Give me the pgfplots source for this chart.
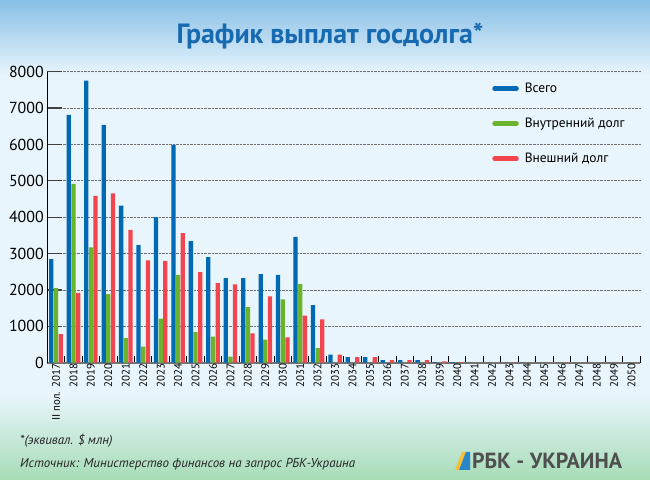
\documentclass[border=0pt]{standalone}
\usepackage{pgfplots}
\pgfplotsset{compat=1.18}
\usepackage{fontspec}
\setmainfont{PT Sans}
\definecolor{cBlue}{HTML}{0069B4}
\definecolor{cGreen}{HTML}{6AB42D}
\definecolor{cRed}{HTML}{F2464F}
\definecolor{bgTop}{HTML}{88BFE6}
\definecolor{bgMid}{HTML}{E8F5FC}
\definecolor{bgBot}{HTML}{A6DCB6}
\definecolor{titleBlue}{HTML}{1769B0}
\definecolor{gridGray}{HTML}{707070}
\definecolor{logoGray}{HTML}{4F4F4F}
\definecolor{logoYellow}{HTML}{F5C033}
\definecolor{logoBlue}{HTML}{2A86C8}
\begin{document}
\begin{tikzpicture}[x=1bp,y=1bp]
\fill[bgMid] (0,0) rectangle (650,480);
\shade[top color=bgTop, bottom color=bgMid] (0,405) rectangle (650,480);
\shade[top color=bgMid, bottom color=bgBot] (0,0) rectangle (650,85);
\begin{axis}[
  at={(47.3bp,117.3bp)}, anchor=south west,
  scale only axis, width=593bp, height=291bp,
  xmin=-0.5, xmax=33.5, ymin=0, ymax=8000,
  enlargelimits=false,
  ybar=0.4bp, bar width=0.245,
  xtick={0,...,33},
  xticklabels={II пол. 2017,2018,2019,2020,2021,2022,2023,2024,2025,2026,2027,2028,2029,2030,2031,2032,2033,2034,2035,2036,2037,2038,2039,2040,2041,2042,2043,2044,2045,2046,2047,2048,2049,2050},
  major x tick style={draw=none},
  minor xtick={-0.5,0.5,...,33.5},
  minor x tick style={black, line width=1bp},
  minor tick length=7bp,
  major tick length=15bp,
  tick align=inside,
  x tick label style={rotate=90, anchor=east, font=\fontsize{11}{11}\selectfont, inner sep=1bp, yshift=0bp},
  ytick={0,1000,...,8000},
  y tick style={black!75, line width=1.2bp},
  y tick label style={font=\fontsize{16}{16}\selectfont, /pgf/number format/assume math mode=true, /pgf/number format/1000 sep={}},
  ymajorgrids, grid style={densely dotted, gridGray, line width=0.8bp},
  axis x line*=bottom, axis y line*=left,
  x axis line style={black!55, line width=2bp},
  y axis line style={black, line width=1.5bp},
  legend style={at={(0.745,0.975)}, anchor=north west, draw=none, fill=none,
    font=\fontsize{13.5}{14}\selectfont, row sep=20bp, legend cell align=left,
    /tikz/every odd column/.append style={column sep=4bp}},
]
\addplot[fill=cBlue, draw=none, legend image code/.code={\draw[cBlue, line width=4.5bp, line cap=round] (0bp,0bp) -- (22bp,0bp);}] coordinates {(0,2850)(1,6810)(2,7754)(3,6535)(4,4317)(5,3235)(6,4005)(7,5985)(8,3345)(9,2905)(10,2328)(11,2328)(12,2438)(13,2411)(14,3456)(15,1586)(16,220)(17,156)(18,156)(19,73)(20,73)(21,73)(22,18)(23,18)(24,0)(25,0)(26,0)(27,0)(28,0)(29,0)(30,0)(31,0)(32,0)(33,0)};
\addplot[fill=cGreen, draw=none, legend image code/.code={\draw[cGreen, line width=4.5bp, line cap=round] (0bp,0bp) -- (22bp,0bp);}] coordinates {(0,2053)(1,4913)(2,3171)(3,1888)(4,678)(5,440)(6,1210)(7,2411)(8,843)(9,715)(10,165)(11,1531)(12,632)(13,1742)(14,2163)(15,403)(16,0)(17,0)(18,0)(19,0)(20,0)(21,0)(22,0)(23,0)(24,0)(25,0)(26,0)(27,0)(28,0)(29,0)(30,0)(31,0)(32,0)(33,0)};
\addplot[fill=cRed, draw=none, legend image code/.code={\draw[cRed, line width=4.5bp, line cap=round] (0bp,0bp) -- (22bp,0bp);}] coordinates {(0,788)(1,1916)(2,4583)(3,4656)(4,3648)(5,2814)(6,2796)(7,3565)(8,2493)(9,2190)(10,2154)(11,807)(12,1824)(13,697)(14,1292)(15,1192)(16,220)(17,156)(18,156)(19,73)(20,73)(21,73)(22,37)(23,18)(24,0)(25,0)(26,0)(27,0)(28,0)(29,0)(30,0)(31,0)(32,0)(33,0)};
\legend{Всего, Внутренний долг, Внешний долг}
\end{axis}
\node[font=\fontsize{28}{28}\selectfont\bfseries, text=titleBlue] at (330,444) {График выплат госдолга*};
\node[anchor=base west, font=\fontsize{13}{13}\selectfont\itshape, text=black!85, inner sep=0] at (20,35) {*(эквивал. \$ млн)};
\node[anchor=base west, font=\fontsize{13}{13}\selectfont\itshape, text=black!85, inner sep=0] at (20,12) {Источник: Министерство финансов на запрос РБК-Украина};
\fill[logoYellow] (455,10) -- (462,28) -- (466,28) -- (459,10) -- cycle;
\fill[logoBlue] (459,10) -- (466,28) -- (470,28) -- (470,10) -- cycle;
\node[anchor=base west, font=\fontsize{22}{22}\selectfont\bfseries, text=logoGray, inner sep=0] at (472,11) {РБК - УКРАИНА};
\end{tikzpicture}
\end{document}
